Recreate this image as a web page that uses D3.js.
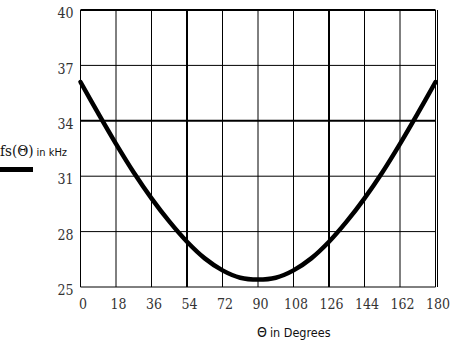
<!DOCTYPE html>
<html><head><meta charset="utf-8">
<script src="https://cdn.jsdelivr.net/npm/d3@7"></script>
<style>body{margin:0;background:#fff}svg{display:block}</style>
</head><body>
<script>
const thetaDeg = [0,9,18,27,36,45,54,63,72,81,90,99,108,117,126,135,144,153,162,171,180];
const fsKHz = [36.1,34.4,32.75,31.2,29.8,28.55,27.45,26.55,25.9,25.5,25.4,25.5,25.9,26.55,27.45,28.55,29.8,31.2,32.75,34.4,36.1];
const xTicks = [0,18,36,54,72,90,108,126,144,162,180];
const yTicks = [25,28,31,34,37,40];
const xBold = [54,126];
const yBold = [34];

const W=450,H=343;
const svg=d3.select("body").append("svg").attr("width",W).attr("height",H);
const x=d3.scaleLinear().domain([0,180]).range([80.5,435.5]);
const y=d3.scaleLinear().domain([25,40]).range([287,10]);
const font="'DejaVu Serif Condensed','DejaVu Serif',serif";
const font2="'DejaVu Sans Condensed','DejaVu Sans',sans-serif";

// grid
svg.append("g").selectAll("line").data(xTicks).join("line")
  .attr("x1",d=>x(d)).attr("x2",d=>x(d)).attr("y1",y(40)).attr("y2",y(25))
  .attr("stroke","#000").attr("stroke-width",d=>xBold.includes(d)?2:1);
svg.append("g").selectAll("line").data(yTicks).join("line")
  .attr("x1",x(0)).attr("x2",x(180)).attr("y1",d=>y(d)).attr("y2",d=>y(d))
  .attr("stroke","#000").attr("stroke-width",d=>(yBold.includes(d)||d===40)?2:1);
// right double border
svg.append("line").attr("x1",x(180)+2).attr("x2",x(180)+2).attr("y1",y(40)).attr("y2",y(25))
  .attr("stroke","#000").attr("stroke-width",1);

// axis labels via d3 axes
const ax=svg.append("g").attr("transform",`translate(0,${y(25)})`)
  .call(d3.axisBottom(x).tickValues(xTicks).tickSize(0).tickPadding(12));
ax.select(".domain").remove();
ax.selectAll("text").attr("font-family",font).attr("font-size",14).attr("fill","#333").attr("dx",2);

const ay=svg.append("g").attr("transform",`translate(${x(0)},0)`)
  .call(d3.axisLeft(y).tickValues(yTicks).tickSize(0).tickPadding(7));
ay.select(".domain").remove();
ay.selectAll("text").attr("font-family",font).attr("font-size",14).attr("fill","#333").attr("dy","0.55em");

// curve
svg.append("path").datum(thetaDeg.map((t,i)=>[t,fsKHz[i]]))
  .attr("d",d3.line().x(d=>x(d[0])).y(d=>y(d[1])).curve(d3.curveCatmullRom))
  .attr("fill","none").attr("stroke","#000").attr("stroke-width",4.5).attr("stroke-linecap","round");

// y title
const yt=svg.append("text").attr("x",0).attr("y",156).attr("font-family",font).attr("fill","#111");
yt.append("tspan").attr("font-size",15).text("fs(Θ)");
yt.append("tspan").attr("font-family",font2).attr("font-size",11).attr("dx",3).text("in kHz");
svg.append("line").attr("x1",0).attr("x2",33).attr("y1",169.5).attr("y2",169.5).attr("stroke","#000").attr("stroke-width",5);

// x title
const xt=svg.append("text").attr("x",257).attr("y",337).attr("font-family",font2).attr("fill","#111");
xt.append("tspan").attr("font-size",14).text("Θ");
xt.append("tspan").attr("font-size",12.5).attr("dx",3).text("in Degrees");
</script>
</body></html>
